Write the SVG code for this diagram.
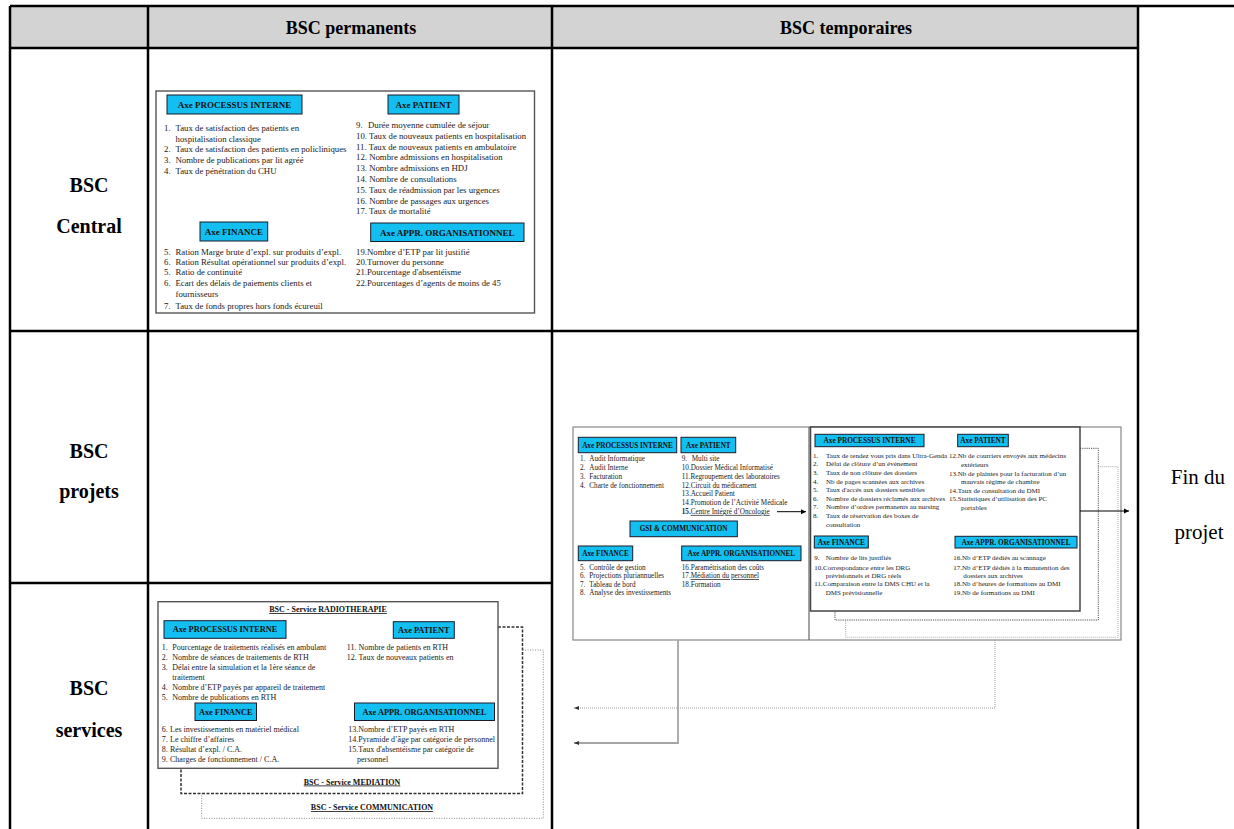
<svg xmlns="http://www.w3.org/2000/svg" width="1234" height="829" viewBox="0 0 1234 829">
<style>
.tl{stroke:#000;stroke-width:2.5;fill:none}
.hd{font-family:'Liberation Serif',serif;font-weight:bold;font-size:18px;fill:#000;text-anchor:middle}
.rl{font-family:'Liberation Serif',serif;font-weight:bold;font-size:20px;fill:#000;text-anchor:middle}
.fin{font-family:'Liberation Serif',serif;font-size:21px;fill:#000;text-anchor:middle}
.bx{fill:#fff;stroke:#555;stroke-width:1.4}
.axe{fill:#13BEF0;stroke:#1b1b2b;stroke-width:1}
.at{font-family:'Liberation Serif',serif;font-weight:bold;fill:#111;text-anchor:middle}
.t{font-family:'Liberation Serif',serif;fill:#1a1a1a}
.c{font-size:8.75px}.a1{font-size:9px}
.s{font-size:8px}.a2{font-size:8.3px}
.p{font-size:7.2px}.a3{font-size:7.2px}
.q{font-size:7px}.a4{font-size:7.3px}
.u{text-decoration:underline}
.ttl{font-family:'Liberation Serif',serif;font-weight:bold;fill:#111;text-anchor:middle;text-decoration:underline}
</style>
<defs>
<marker id="ah" markerUnits="userSpaceOnUse" markerWidth="6" markerHeight="6" refX="5" refY="3" orient="auto"><path d="M0,0.5 L5,3 L0,5.5 Z" fill="#000"/></marker>
<marker id="ahg" markerUnits="userSpaceOnUse" markerWidth="6" markerHeight="6" refX="5" refY="3" orient="auto"><path d="M0,1 L5,3 L0,5 Z" fill="#333"/></marker>
</defs>

<g id="table">
<rect x="10" y="6" width="1128" height="42" fill="#D3D3D3"/>
<line class="tl" x1="10" y1="6" x2="1234" y2="6"/>
<line class="tl" x1="10" y1="48" x2="1138" y2="48"/>
<line class="tl" x1="10" y1="331" x2="1138" y2="331"/>
<line class="tl" x1="10" y1="583" x2="552" y2="583"/>
<line class="tl" x1="10" y1="6" x2="10" y2="829"/>
<line class="tl" x1="148" y1="6" x2="148" y2="829"/>
<line class="tl" x1="552" y1="6" x2="552" y2="829"/>
<line class="tl" x1="1138" y1="6" x2="1138" y2="829"/>
<text class="hd" x="351" y="34">BSC permanents</text>
<text class="hd" x="846" y="34">BSC temporaires</text>
<text class="rl" x="89" y="192">BSC</text>
<text class="rl" x="89" y="233">Central</text>
<text class="rl" x="89" y="458">BSC</text>
<text class="rl" x="89" y="498">projets</text>
<text class="rl" x="89" y="695">BSC</text>
<text class="rl" x="89" y="737">services</text>
<text class="fin" x="1198" y="484">Fin du</text>
<text class="fin" x="1199" y="539">projet</text>
</g>

<g id="bsc-central">
<rect class="bx" x="156" y="91" width="378.5" height="222"/>
<rect class="axe" x="167" y="95" width="135" height="19"/>
<text class="at a1" x="234.5" y="107.8">Axe PROCESSUS INTERNE</text>
<rect class="axe" x="388" y="95" width="71" height="19"/>
<text class="at a1" x="423.5" y="107.8">Axe PATIENT</text>
<rect class="axe" x="200" y="222" width="67.7" height="19"/>
<text class="at a1" x="233.8" y="234.8">Axe FINANCE</text>
<rect class="axe" x="370.7" y="223" width="153.3" height="18.5"/>
<text class="at a1" x="447.3" y="235.5">Axe APPR. ORGANISATIONNEL</text>
<g class="t c">
<text x="164" y="131.3">1.</text><text x="175.5" y="131.3">Taux de satisfaction des patients en</text>
<text x="175.5" y="141.6">hospitalisation classique</text>
<text x="164" y="152.3">2.</text><text x="175.5" y="152.3">Taux de satisfaction des patients en policliniques</text>
<text x="164" y="163.3">3.</text><text x="175.5" y="163.3">Nombre de publications par lit agréé</text>
<text x="164" y="173.9">4.</text><text x="175.5" y="173.9">Taux de pénétration du CHU</text>
<text x="164" y="254.9">5.</text><text x="175.5" y="254.9">Ration Marge brute d’expl. sur produits d’expl.</text>
<text x="164" y="264.9">6.</text><text x="175.5" y="264.9">Ration Résultat opérationnel sur produits d’expl.</text>
<text x="164" y="274.9">5.</text><text x="175.5" y="274.9">Ratio de continuité</text>
<text x="164" y="286.3">6.</text><text x="175.5" y="286.3">Ecart des délais de paiements clients et</text>
<text x="175.5" y="297.3">fournisseurs</text>
<text x="164" y="308.6">7.</text><text x="175.5" y="308.6">Taux de fonds propres hors fonds écureuil</text>
<text x="356" y="127.9">9.</text><text x="368" y="127.9">Durée moyenne cumulée de séjour</text>
<text x="356" y="138.7">10. Taux de nouveaux patients en hospitalisation</text>
<text x="356" y="149.5">11. Taux de nouveaux patients en ambulatoire</text>
<text x="356" y="160.3">12. Nombre admissions en hospitalisation</text>
<text x="356" y="171.1">13. Nombre admissions en HDJ</text>
<text x="356" y="181.9">14. Nombre de consultations</text>
<text x="356" y="192.7">15. Taux de réadmission par les urgences</text>
<text x="356" y="203.5">16. Nombre de passages aux urgences</text>
<text x="356" y="214.3">17. Taux de mortalité</text>
<text x="356" y="254.6">19.Nombre d’ETP par lit justifié</text>
<text x="356" y="264.6">20.Turnover du personne</text>
<text x="356" y="274.9">21.Pourcentage d'absentéisme</text>
<text x="356" y="285.6">22.Pourcentages d’agents de moins de 45</text>
</g>
</g>

<g id="bsc-projets-gsi">
<rect x="573" y="427" width="548" height="213" fill="#fff" stroke="#888" stroke-width="1.2"/>
<line x1="809" y1="427" x2="809" y2="640" stroke="#666" stroke-width="1.2"/>
<rect class="axe" x="578.3" y="437.3" width="98.4" height="15.4"/>
<text class="at a3" x="627.5" y="447.6">Axe PROCESSUS INTERNE</text>
<rect class="axe" x="681" y="437.3" width="54.7" height="15.4"/>
<text class="at a3" x="708.3" y="447.6">Axe PATIENT</text>
<rect class="axe" x="630" y="521" width="107.3" height="15.7"/>
<text class="at a3" x="683.6" y="531.4">GSI &amp; COMMUNICATION</text>
<rect class="axe" x="578.3" y="546" width="54.4" height="14.7"/>
<text class="at a3" x="605.5" y="555.9">Axe FINANCE</text>
<rect class="axe" x="681.7" y="546" width="119.3" height="14.7"/>
<text class="at a3" x="741.3" y="555.9">Axe APPR. ORGANISATIONNEL</text>
<g class="t p">
<text x="580" y="461.2">1.</text><text x="589.3" y="461.2">Audit Informatique</text>
<text x="580" y="469.9">2.</text><text x="589.3" y="469.9">Audit Interne</text>
<text x="580" y="478.9">3.</text><text x="589.3" y="478.9">Facturation</text>
<text x="580" y="487.5">4.</text><text x="589.3" y="487.5">Charte de fonctionnement</text>
<text x="681.7" y="461.2">9.</text><text x="691.7" y="461.2">Multi site</text>
<text x="681.7" y="469.9">10.Dossier Médical Informatisé</text>
<text x="681.7" y="478.9">11.Regroupement des laboratoires</text>
<text x="681.7" y="487.5">12.Circuit du médicament</text>
<text x="681.7" y="496.2">13.Accueil Patient</text>
<text x="681.7" y="504.9">14.Promotion de l’Activité Médicale</text>
<text x="681.7" y="513.9"><tspan font-weight="bold">15.</tspan><tspan class="u">Centre Intégré d’Oncologie</tspan></text>
<text x="580" y="569.9">5.</text><text x="589.3" y="569.9">Contrôle de gestion</text>
<text x="580" y="578.2">6.</text><text x="589.3" y="578.2">Projections pluriannuelles</text>
<text x="580" y="586.5">7.</text><text x="589.3" y="586.5">Tableau de bord</text>
<text x="580" y="594.9">8.</text><text x="589.3" y="594.9">Analyse des investissements</text>
<text x="681.7" y="569.9">16.Paramétrisation des coûts</text>
<text x="681.7" y="578.2">17.<tspan class="u">Médiation du personnel</tspan></text>
<text x="681.7" y="586.5">18.Formation</text>
</g>
</g>

<g id="bsc-projets-oncologie">
<path d="M1098.3,466.7 H1118 V637.3 H845.7 V620" fill="none" stroke="#aaa" stroke-width="1" stroke-dasharray="1,1"/>
<path d="M1080,448.3 H1098.3 V620 H835 V611" fill="none" stroke="#555" stroke-width="1" stroke-dasharray="1.2,1"/>
<rect x="810.5" y="427" width="269.5" height="184" fill="#fff" stroke="#444" stroke-width="1.5"/>
<rect class="axe" x="815" y="434.3" width="109" height="12.4"/>
<text class="at a4" x="869.5" y="443.2">Axe PROCESSUS INTERNE</text>
<rect class="axe" x="957.7" y="434.3" width="50.6" height="12.4"/>
<text class="at a4" x="983" y="443.2">Axe PATIENT</text>
<rect class="axe" x="814.3" y="536" width="54" height="12"/>
<text class="at a4" x="841.3" y="544.7">Axe FINANCE</text>
<rect class="axe" x="955" y="536.3" width="122" height="11.7"/>
<text class="at a4" x="1016" y="544.9">Axe APPR. ORGANISATIONNEL</text>
<g class="t q">
<text x="813" y="457.8">1.</text><text x="826" y="457.8">Taux de rendez vous pris dans Ultra-Genda</text>
<text x="813" y="466.4">2.</text><text x="826" y="466.4">Délai de clôture d’un évènement</text>
<text x="813" y="475">3.</text><text x="826" y="475">Taux de non clôture des dossiers</text>
<text x="813" y="483.6">4.</text><text x="826" y="483.6">Nb de pages scannées  aux archives</text>
<text x="813" y="492.2">5.</text><text x="826" y="492.2">Taux d'accès aux dossiers sensibles</text>
<text x="813" y="500.8">6.</text><text x="826" y="500.8">Nombre de dossiers réclamés aux archives</text>
<text x="813" y="509.4">7.</text><text x="826" y="509.4">Nombre d’ordres permanents au nursing</text>
<text x="813" y="518">8.</text><text x="826" y="518">Taux de réservation des boxes de</text>
<text x="826" y="526.6">consultation</text>
<text x="949" y="457.8">12.Nb de courriers envoyés aux médecins</text>
<text x="961" y="467.1">extérieurs</text>
<text x="949" y="476.1">13.Nb de plaintes pour la facturation d’un</text>
<text x="961" y="484.4">mauvais régime de chambre</text>
<text x="949" y="493.1">14.Taux de consultation du DMI</text>
<text x="949" y="501.1">15.Statistiques d’utilisation des PC</text>
<text x="961" y="510.4">portables</text>
<text x="814.3" y="560.4">9.</text><text x="825.7" y="560.4">Nombre de lits justifiés</text>
<text x="814.3" y="569.8">10.Correspondance entre les DRG</text>
<text x="825.7" y="578.1">prévisionnels et DRG réels</text>
<text x="814.3" y="586.4">11.Comparaison entre la DMS CHU et la</text>
<text x="825.7" y="595.4">DMS prévisionnelle</text>
<text x="953.3" y="560.4">16.Nb d’ETP dédiés au scannage</text>
<text x="953.3" y="569.8">17.Nb d’ETP dédiés à la manutention des</text>
<text x="963.3" y="578.1">dossiers aux archives</text>
<text x="953.3" y="586.4">18.Nb d’heures de formations au DMI</text>
<text x="953.3" y="595.4">19.Nb de formations au DMI</text>
</g>
</g>

<g id="bsc-services">
<path d="M522.5,650 H543.3 V818.3 H201.7 V793.5" fill="none" stroke="#888" stroke-width="1" stroke-dasharray="1,1.5"/>
<path d="M498,627 H522.5 V793.5 H181 V768.3" fill="none" stroke="#333" stroke-width="1.5" stroke-dasharray="3,1.5"/>
<rect class="bx" x="158" y="601.7" width="340" height="166.6"/>
<text class="ttl s" x="328" y="612">BSC - Service RADIOTHERAPIE</text>
<text class="ttl s" x="352" y="784.5">BSC - Service MEDIATION</text>
<text class="ttl s" x="372" y="810">BSC - Service COMMUNICATION</text>
<rect class="axe" x="164" y="620.7" width="122" height="17.6"/>
<text class="at a2" x="225" y="632.4">Axe PROCESSUS INTERNE</text>
<rect class="axe" x="393.3" y="621.7" width="61" height="16.6"/>
<text class="at a2" x="423.8" y="632.9">Axe PATIENT</text>
<rect class="axe" x="195" y="703" width="61.5" height="17.5"/>
<text class="at a2" x="225.8" y="714.7">Axe FINANCE</text>
<rect class="axe" x="354.5" y="703" width="140" height="17.5"/>
<text class="at a2" x="424.5" y="714.7">Axe APPR. ORGANISATIONNEL</text>
<g class="t s">
<text x="161.7" y="649.7">1.</text><text x="172.3" y="649.7">Pourcentage de traitements réalisés en ambulant</text>
<text x="161.7" y="659.7">2.</text><text x="172.3" y="659.7">Nombre de séances de traitements de RTH</text>
<text x="161.7" y="670.1">3.</text><text x="172.3" y="670.1">Délai entre la simulation et la 1ère séance de</text>
<text x="172.3" y="679.7">traitement</text>
<text x="161.7" y="689.7">4.</text><text x="172.3" y="689.7">Nombre d’ETP payés par appareil de traitement</text>
<text x="161.7" y="699.7">5.</text><text x="172.3" y="699.7">Nombre de publications en RTH</text>
<text x="346.7" y="649.7">11. Nombre de patients en RTH</text>
<text x="346.7" y="659.7">12. Taux de nouveaux patients en</text>
<text x="161.7" y="731.7">6.</text><text x="170" y="731.7">Les investissements en matériel médical</text>
<text x="161.7" y="741.7">7.</text><text x="170" y="741.7">Le chiffre d’affaires</text>
<text x="161.7" y="752.1">8.</text><text x="170" y="752.1">Résultat d’expl. / C.A.</text>
<text x="161.7" y="762.1">9.</text><text x="170" y="762.1">Charges de fonctionnement / C.A.</text>
<text x="348.3" y="731.7">13.Nombre d’ETP payés en RTH</text>
<text x="348.3" y="741.7">14.Pyramide d’âge par catégorie de personnel</text>
<text x="348.3" y="752.1">15.Taux d'absentéisme par catégorie de</text>
<text x="357" y="762.1">personnel</text>
</g>
</g>

<g id="connectors">
<line x1="777" y1="511.7" x2="806" y2="511.7" stroke="#000" stroke-width="1" marker-end="url(#ah)"/>
<line x1="1080" y1="511" x2="1129" y2="511" stroke="#000" stroke-width="1" marker-end="url(#ah)"/>
<path d="M678,640 V743 H574" fill="none" stroke="#a5a5a5" stroke-width="1.8" marker-end="url(#ahg)"/>
<path d="M995,640 V708 H574" fill="none" stroke="#999" stroke-width="1" stroke-dasharray="1,1" marker-end="url(#ahg)"/>
</g>
</svg>
